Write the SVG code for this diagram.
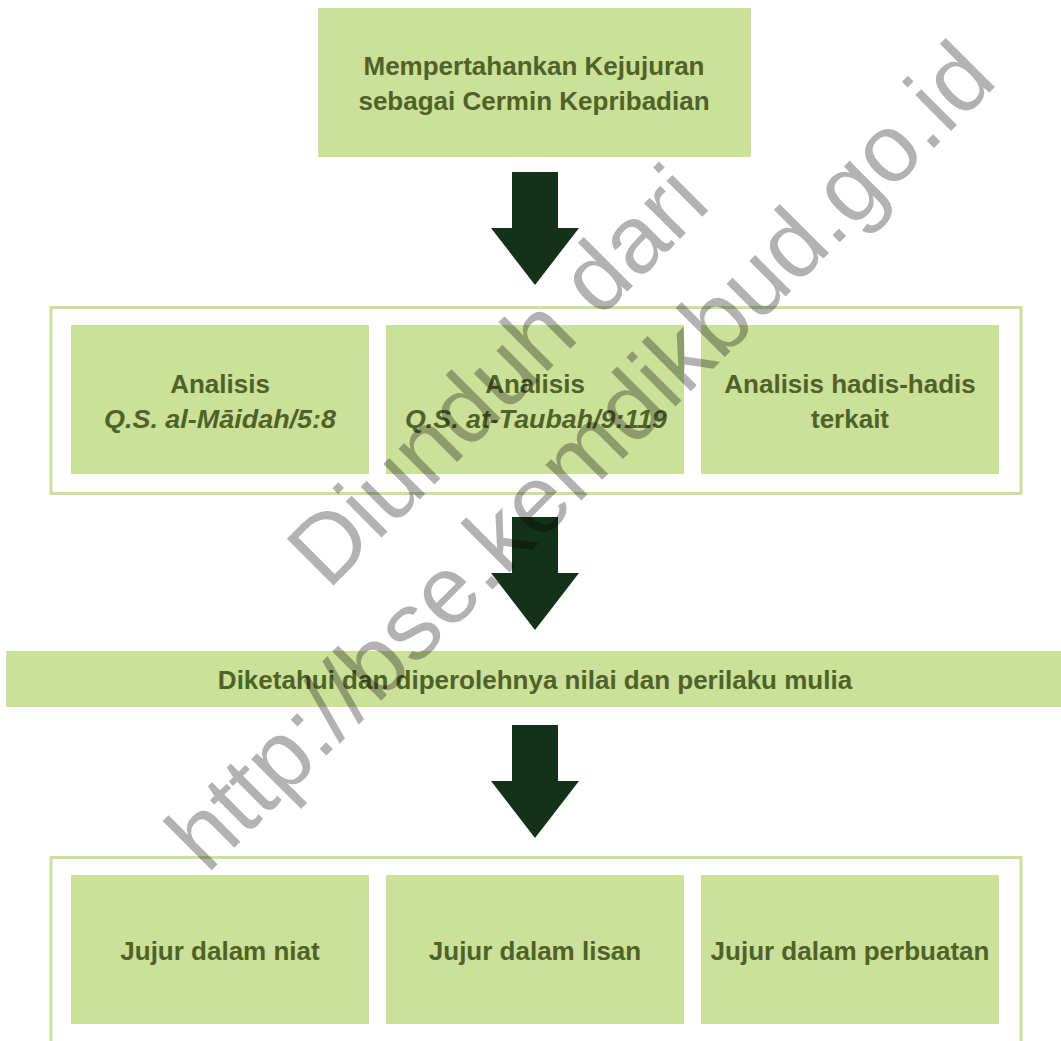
<svg xmlns="http://www.w3.org/2000/svg" width="1061" height="1041" viewBox="0 0 1061 1041">
<style>
.box{fill:#cbe098;}
.frame{fill:none;stroke:#cbe098;stroke-width:3;}
.t{font-family:"Liberation Sans",Arial,sans-serif;font-weight:bold;font-size:26px;fill:#4f6228;text-anchor:middle;}
.it{font-style:italic;}
.arrow{fill:#143119;}
.wm{font-family:"Liberation Sans",Arial,sans-serif;font-size:96px;fill:#000;fill-opacity:0.3;}
</style>
<rect width="1061" height="1041" fill="#fff"/>

<g id="node-top">
<rect class="box" x="318" y="8" width="433" height="149"/>
<text class="t" x="534" y="75">Mempertahankan Kejujuran</text>
<text class="t" x="534" y="110">sebagai Cermin Kepribadian</text>
</g>

<g id="group-analisis">
<rect class="frame" x="51" y="307.5" width="970" height="186"/>
<g id="node-maidah">
<rect class="box" x="71" y="325" width="298" height="149"/>
<text class="t" x="220" y="393">Analisis</text>
<text class="t it" x="220" y="428" textLength="232" lengthAdjust="spacingAndGlyphs">Q.S. al-Māidah/5:8</text>
</g>
<g id="node-taubah">
<rect class="box" x="386" y="325" width="298" height="149"/>
<text class="t" x="535" y="393">Analisis</text>
<text class="t it" x="536" y="428" textLength="262" lengthAdjust="spacingAndGlyphs">Q.S. at-Taubah/9:119</text>
</g>
<g id="node-hadis">
<rect class="box" x="701" y="325" width="298" height="149"/>
<text class="t" x="850" y="393">Analisis hadis-hadis</text>
<text class="t" x="850" y="428">terkait</text>
</g>
</g>

<g id="node-nilai">
<rect class="box" x="6" y="651" width="1055" height="56"/>
<text class="t" x="535" y="689">Diketahui dan diperolehnya nilai dan perilaku mulia</text>
</g>

<g id="group-jujur">
<rect class="frame" x="51" y="857.5" width="970" height="210"/>
<g id="node-niat">
<rect class="box" x="71" y="875" width="298" height="149"/>
<text class="t" x="220" y="960">Jujur dalam niat</text>
</g>
<g id="node-lisan">
<rect class="box" x="386" y="875" width="298" height="149"/>
<text class="t" x="535" y="960">Jujur dalam lisan</text>
</g>
<g id="node-perbuatan">
<rect class="box" x="701" y="875" width="298" height="149"/>
<text class="t" x="850" y="960">Jujur dalam perbuatan</text>
</g>
</g>

<g id="connectors">
<polygon class="arrow" points="512,172 558,172 558,228 579,228 535,285 491,228 512,228"/>
<polygon class="arrow" points="512,517 558,517 558,573 579,573 535,630 491,573 512,573"/>
<polygon class="arrow" points="512,725 558,725 558,781 579,781 535,838 491,781 512,781"/>
</g>

<g id="watermark">
<text class="wm" transform="translate(328,591) rotate(-45)">Diunduh dari</text>
<text class="wm" transform="translate(207,875) rotate(-45)">http://bse.kemdikbud.go.id</text>
</g>
</svg>
